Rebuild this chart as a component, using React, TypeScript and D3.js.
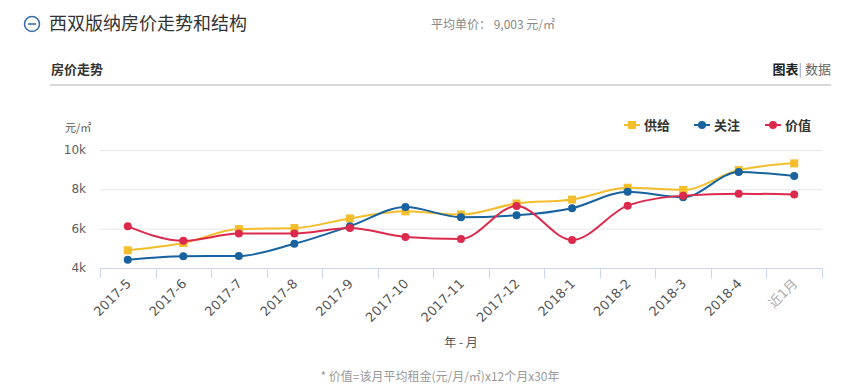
import React, { useRef, useEffect } from 'react';
import * as d3 from 'd3';

const months = ['2017-5', '2017-6', '2017-7', '2017-8', '2017-9', '2017-10', '2017-11', '2017-12', '2018-1', '2018-2', '2018-3', '2018-4', '近1月'];
const supply = [4900, 5270, 5980, 6030, 6520, 6880, 6720, 7280, 7480, 8080, 7970, 8980, 9320];
const attention = [4420, 4600, 4610, 5230, 6120, 7100, 6580, 6680, 7040, 7880, 7600, 8880, 8680];
const value = [6120, 5380, 5750, 5760, 6030, 5580, 5480, 7150, 5420, 7170, 7680, 7780, 7740];
const yTicks = [4000, 6000, 8000, 10000];

const series = [
  { name: '供给', data: supply, color: '#f3bd2c', shape: 'square' },
  { name: '关注', data: attention, color: '#17629f', shape: 'circle' },
  { name: '价值', data: value, color: '#dc2a4c', shape: 'circle' },
];

const FONT = '"Microsoft YaHei", "Noto Sans CJK SC", sans-serif';
const NUM = '"DejaVu Sans", "Noto Sans CJK SC", sans-serif';

export default function App() {
  const ref = useRef<SVGSVGElement>(null);
  const width = 850, height = 392;
  const margin = { left: 100, right: 28, top: 150, bottom: 124 };

  useEffect(() => {
    const svg = d3.select(ref.current);
    svg.selectAll('*').remove();

    const x = d3.scaleBand<string>().domain(months).range([margin.left, width - margin.right]);
    const y = d3.scaleLinear().domain([4000, 10000]).range([height - margin.bottom, margin.top]);

    // header
    svg.append('circle').attr('cx', 32).attr('cy', 24).attr('r', 7.5)
      .attr('fill', 'none').attr('stroke', '#3a6ea8').attr('stroke-width', 1.6);
    svg.append('line').attr('x1', 28).attr('x2', 36).attr('y1', 24).attr('y2', 24)
      .attr('stroke', '#3a6ea8').attr('stroke-width', 1.6);
    svg.append('text').attr('x', 49).attr('y', 30).text('西双版纳房价走势和结构')
      .attr('font-size', 18).attr('fill', '#333').attr('font-family', FONT);
    svg.append('text').attr('x', 431).attr('y', 29).text('平均单价：  9,003 元/㎡')
      .attr('font-size', 12).attr('fill', '#888').attr('font-family', FONT);

    svg.append('text').attr('x', 51).attr('y', 74).text('房价走势')
      .attr('font-size', 13).attr('font-weight', 'bold').attr('fill', '#333').attr('font-family', FONT);
    const tab = svg.append('text').attr('x', 831).attr('y', 74).attr('text-anchor', 'end')
      .attr('font-size', 13).attr('font-family', FONT);
    tab.append('tspan').text('图表').attr('font-weight', 'bold').attr('fill', '#222');
    tab.append('tspan').text('| ').attr('fill', '#999');
    tab.append('tspan').text('数据').attr('fill', '#666');
    svg.append('line').attr('x1', 50).attr('x2', 831).attr('y1', 85).attr('y2', 85)
      .attr('stroke', '#d8d8d8').attr('stroke-width', 2);

    // y axis unit + grid
    svg.append('text').attr('x', 65).attr('y', 132).text('元/㎡')
      .attr('font-size', 11).attr('fill', '#555').attr('font-family', FONT);
    const grid = svg.append('g');
    yTicks.slice(1).forEach(t => {
      grid.append('line').attr('x1', margin.left).attr('x2', width - margin.right)
        .attr('y1', y(t) + 0.5).attr('y2', y(t) + 0.5).attr('stroke', '#e6e6e6');
    });
    yTicks.forEach(t => {
      grid.append('text').attr('x', 86).attr('y', y(t) + 4).attr('text-anchor', 'end')
        .text(t / 1000 + 'k').attr('font-size', 12).attr('fill', '#606060').attr('font-family', NUM);
    });

    // x axis
    const xa = svg.append('g');
    const base = y(4000) + 0.5;
    xa.append('line').attr('x1', margin.left).attr('x2', width - margin.right)
      .attr('y1', base).attr('y2', base).attr('stroke', '#ccd6eb');
    const bounds = months.map(m => x(m)!).concat([width - margin.right]);
    bounds.forEach(b => {
      xa.append('line').attr('x1', Math.round(b) + 0.5).attr('x2', Math.round(b) + 0.5)
        .attr('y1', base).attr('y2', base + 10).attr('stroke', '#ccd6eb');
    });
    months.forEach((m, i) => {
      const cx = x(m)! + x.bandwidth() / 2;
      xa.append('text').attr('transform', `translate(${cx + 4},${base + 16}) rotate(-45)`)
        .attr('text-anchor', 'end').text(m).attr('font-size', 13)
        .attr('fill', i === months.length - 1 ? '#aaa' : '#555').attr('font-family', NUM);
    });
    svg.append('text').attr('x', 461).attr('y', 347).attr('text-anchor', 'middle').text('年 - 月')
      .attr('font-size', 12).attr('fill', '#555').attr('font-family', FONT);
    svg.append('text').attr('x', 440).attr('y', 381).attr('text-anchor', 'middle')
      .text('* 价值=该月平均租金(元/月/㎡)x12个月x30年')
      .attr('font-size', 12).attr('fill', '#999').attr('font-family', FONT);

    // lines
    const line = d3.line<number>()
      .x((_, i) => x(months[i])! + x.bandwidth() / 2)
      .y(d => y(d))
      .curve(d3.curveMonotoneX);
    series.forEach(s => {
      const g = svg.append('g');
      g.append('path').attr('d', line(s.data)!).attr('fill', 'none')
        .attr('stroke', s.color).attr('stroke-width', 2);
      s.data.forEach((d, i) => {
        const cx = x(months[i])! + x.bandwidth() / 2;
        if (s.shape === 'square') {
          g.append('rect').attr('x', cx - 4).attr('y', y(d) - 4).attr('width', 8).attr('height', 8).attr('fill', s.color);
        } else {
          g.append('circle').attr('cx', cx).attr('cy', y(d)).attr('r', 4).attr('fill', s.color);
        }
      });
    });

    // legend
    const lx = [624, 694, 765];
    series.forEach((s, i) => {
      const g = svg.append('g').attr('transform', `translate(${lx[i]},125)`);
      g.append('line').attr('x1', 0).attr('x2', 16).attr('y1', 0).attr('y2', 0).attr('stroke', s.color).attr('stroke-width', 2);
      if (s.shape === 'square') g.append('rect').attr('x', 4).attr('y', -4).attr('width', 8).attr('height', 8).attr('fill', s.color);
      else g.append('circle').attr('cx', 8).attr('cy', 0).attr('r', 4).attr('fill', s.color);
      g.append('text').attr('x', 20).attr('y', 5).text(s.name).attr('font-size', 13)
        .attr('font-weight', 'bold').attr('fill', '#333').attr('font-family', FONT);
    });
  }, []);

  return <svg ref={ref} width={width} height={height} style={{ position: 'absolute', left: 0, top: 0, background: '#fff' }} />;
}
